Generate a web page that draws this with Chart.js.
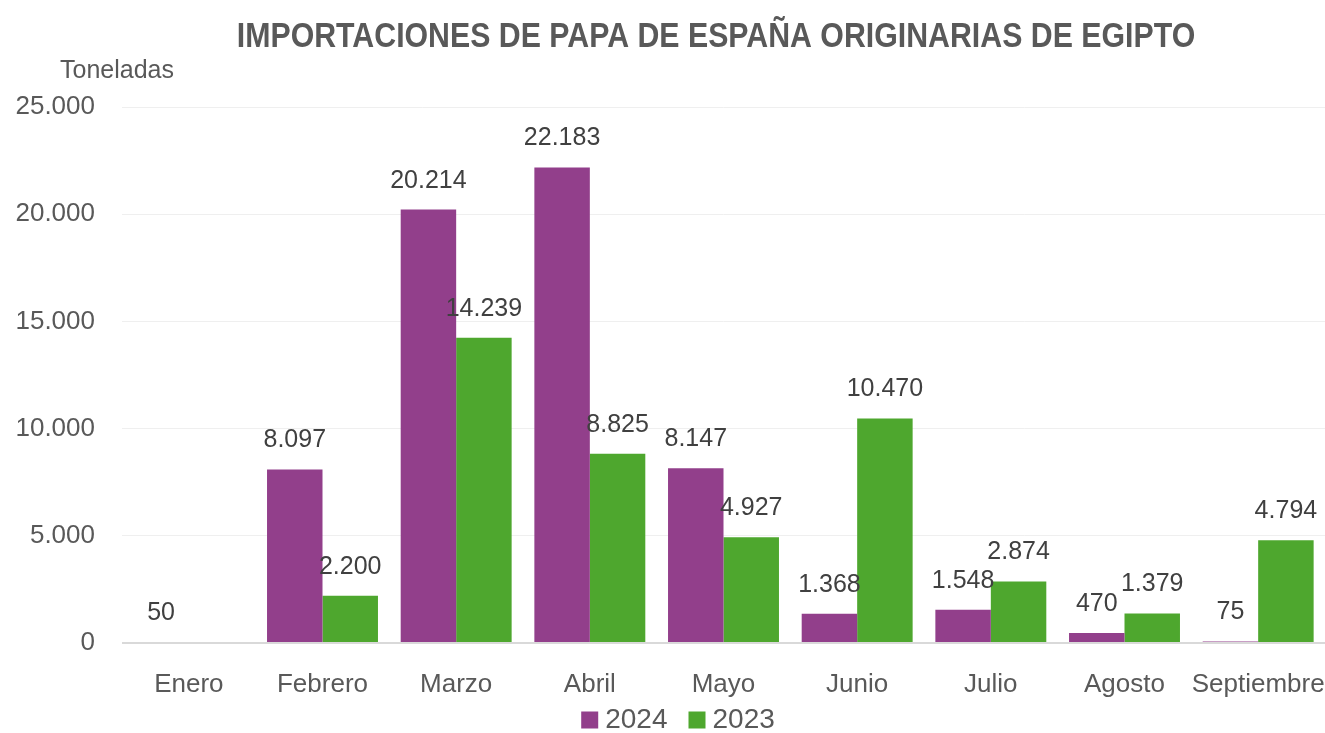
<!DOCTYPE html>
<html><head><meta charset="utf-8">
<script src="https://cdn.jsdelivr.net/npm/chart.js@4/dist/chart.umd.min.js"></script>
<style>html,body{margin:0;padding:0;background:#fff}#wrap{width:1325px;height:733px}</style>
</head><body><div id="wrap"><canvas id="c" width="1325" height="733"></canvas></div>
<script>
const categories = ["Enero","Febrero","Marzo","Abril","Mayo","Junio","Julio","Agosto","Septiembre"];
const values2024 = [50, 8097, 20214, 22183, 8147, 1368, 1548, 470, 75];
const values2023 = [null, 2200, 14239, 8825, 4927, 10470, 2874, 1379, 4794];
const yTicks = [0, 5000, 10000, 15000, 20000, 25000];
const titleText = "IMPORTACIONES DE PAPA DE ESPAÑA ORIGINARIAS DE EGIPTO";
const unitText = "Toneladas";

function fmt(v){ return String(Math.round(v)).replace(/\B(?=(\d{3})+(?!\d))/g, "."); }

const textColor = "#595959";
const FONT = "'Liberation Sans', Arial, sans-serif";
const labelPlugin = {
  id: "labels",
  afterDatasetsDraw(chart){
    const ctx = chart.ctx;
    ctx.save();
    ctx.font = "25px " + FONT;
    ctx.fillStyle = "#404040";
    ctx.textAlign = "center";
    ctx.textBaseline = "middle";
    chart.data.datasets.forEach((ds, di) => {
      const meta = chart.getDatasetMeta(di);
      meta.data.forEach((el, i) => {
        const v = ds.data[i];
        if (v === null || v === undefined) return;
        ctx.fillText(fmt(v), el.x, el.y - 29);
      });
    });
    ctx.font = "25px " + FONT;
    ctx.fillStyle = textColor;
    ctx.textAlign = "left";
    ctx.fillText(unitText, 60, 71);
    // title
    ctx.save();
    ctx.translate(716, 37);
    ctx.scale(1, 1.18);
    ctx.font = "bold 30.3px " + FONT;
    ctx.fillStyle = textColor;
    ctx.textAlign = "center";
    ctx.textBaseline = "middle";
    ctx.fillText(titleText, 0, 0);
    ctx.restore();
    // legend
    ctx.font = "28px " + FONT;
    ctx.textBaseline = "middle";
    ctx.textAlign = "left";
    const box = 17, gap = 7, spacing = 21, cy = 720;
    const items = chart.data.datasets.map(d => ({ t: d.label, c: d.backgroundColor, w: ctx.measureText(d.label).width }));
    let total = items.reduce((s, it) => s + box + gap + it.w, 0) + spacing * (items.length - 1);
    let x = 678 - total / 2;
    items.forEach(it => {
      ctx.fillStyle = it.c;
      ctx.fillRect(x, cy - box / 2, box, box);
      x += box + gap;
      ctx.fillStyle = textColor;
      ctx.fillText(it.t, x, cy);
      x += it.w + spacing;
    });
    ctx.restore();
  }
};

new Chart(document.getElementById("c"), {
  type: "bar",
  data: {
    labels: categories,
    datasets: [
      { label: "2024", data: values2024, backgroundColor: "#923F8B", borderWidth: 0 },
      { label: "2023", data: values2023, backgroundColor: "#4EA72E", borderWidth: 0 }
    ]
  },
  options: {
    responsive: false,
    animation: false,
    devicePixelRatio: 1,
    layout: { padding: { left: 0, right: 0, top: 107, bottom: 0 } },
    datasets: { bar: { categoryPercentage: 0.83, barPercentage: 1.0 } },
    plugins: {
      title: { display: false },
      legend: { display: false },
      tooltip: { enabled: false }
    },
    scales: {
      x: {
        grid: { display: false, drawTicks: false },
        border: { display: false },
        afterFit(axis){ axis.height = 90; axis.paddingLeft = 0; axis.paddingRight = 0; },
        ticks: { color: textColor, font: { family: FONT, size: 26 }, padding: 26, maxRotation: 0, minRotation: 0, autoSkip: false }
      },
      y: {
        min: 0, max: 25000,
        afterBuildTicks(axis){ axis.ticks = yTicks.map(v => ({ value: v })); },
        afterFit(axis){ axis.width = 122; },
        grid: { color: (c) => c.tick && c.tick.value === 0 ? "#d9d9d9" : "#efefef", lineWidth: (c) => c.tick && c.tick.value === 0 ? 2 : 1, drawTicks: false },
        border: { display: false },
        ticks: { color: textColor, font: { family: FONT, size: 26 }, padding: 27, callback: (v) => fmt(v) }
      }
    }
  },
  plugins: [labelPlugin]
});
</script>
</body></html>
